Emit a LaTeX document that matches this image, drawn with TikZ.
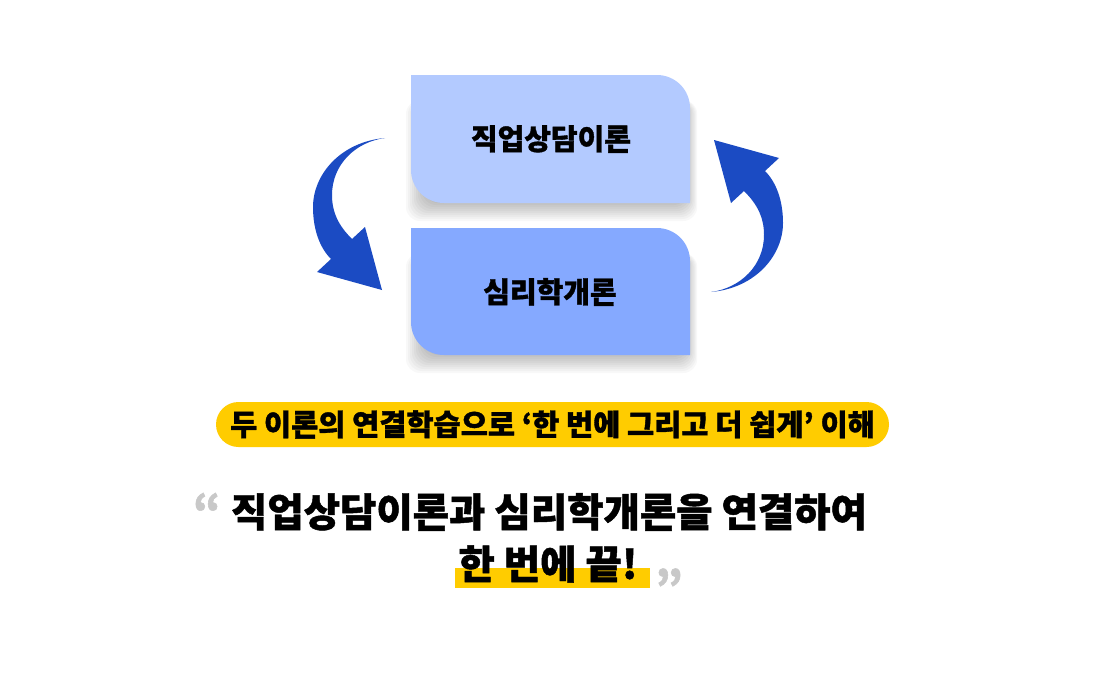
\documentclass[tikz,border=0pt]{standalone}
\usepackage{fontspec}
\newfontfamily\cjk{Noto Sans CJK KR}[BoldFeatures={FakeBold=1.2}]
\definecolor{careerblue}{HTML}{B3CAFF}
\definecolor{psychblue}{HTML}{85A9FF}
\definecolor{arrowblue}{HTML}{1B4BC3}
\definecolor{pillyellow}{HTML}{FFCC00}
\definecolor{quotegray}{HTML}{C8C8C8}
\begin{document}
\begin{tikzpicture}[x=1pt,y=-1pt,
    shadowlayer/.style={black,opacity=0.028,rounded corners=14pt},
    boxtext/.style={font=\cjk\bfseries\fontsize{29}{32}\selectfont},
    pill/.style={fill=pillyellow,rounded corners=22.5pt,minimum width=673pt,minimum height=45pt,inner sep=0pt,font=\cjk\bfseries\fontsize{29.5}{32}\selectfont},
    headline/.style={font=\cjk\bfseries\fontsize{39.5}{44}\selectfont},
    quotemark/.style={text=quotegray,font=\cjk\bfseries\fontsize{44}{44}\selectfont}]
  \useasboundingbox[fill=white] (0,0) rectangle (1100,689);

  % soft shadows under the boxes
  \foreach \top/\bot in {75/203,228/355}
    \foreach \k in {0,2,...,22}
      \fill[shadowlayer] ({428-\k},{\top+25}) rectangle ({684+0.6*\k},{\bot-4+\k});

  % two boxes, rounded top right and bottom left
  \fill[careerblue] (411,75) -- (657,75) arc(-90:0:33) -- (690,203) -- (444,203) arc(90:180:33) -- cycle;
  \fill[psychblue] (411,228) -- (657,228) arc(-90:0:33) -- (690,355) -- (444,355) arc(90:180:33) -- cycle;
  \node[boxtext] (career) at (551,139) {직업상담이론};
  \node[boxtext] (psych) at (550,292) {심리학개론};

  % bent arrows
  \fill[arrowblue] (385,138) .. controls (340,142) and (313,175) .. (313,207) .. controls (313,230) and (320,248) .. (331,259)
    -- (317,272) -- (382,290) -- (365,227) -- (352,239)
    .. controls (338,225) and (332,212) .. (332,195) .. controls (332,165) and (355,142) .. (385,138) -- cycle;
  \fill[arrowblue,rotate around={180:(548,215)}] (385,138) .. controls (340,142) and (313,175) .. (313,207) .. controls (313,230) and (320,248) .. (331,259)
    -- (317,272) -- (382,290) -- (365,227) -- (352,239)
    .. controls (338,225) and (332,212) .. (332,195) .. controls (332,165) and (355,142) .. (385,138) -- cycle;

  \node[pill] (summary) at (552.5,424.5) {두 이론의 연결학습으로 ‘한 번에 그리고 더 쉽게’ 이해};

  \fill[pillyellow] (455,568) rectangle (650,588);
  \node[headline] (claim) at (549,512) {직업상담이론과 심리학개론을 연결하여};
  \node[headline] (ending) at (548,564) {한 번에 끝!};
  \node[quotemark] (openq) at (207,510) {“};
  \node[quotemark] (closeq) at (669,586) {”};
\end{tikzpicture}
\end{document}
